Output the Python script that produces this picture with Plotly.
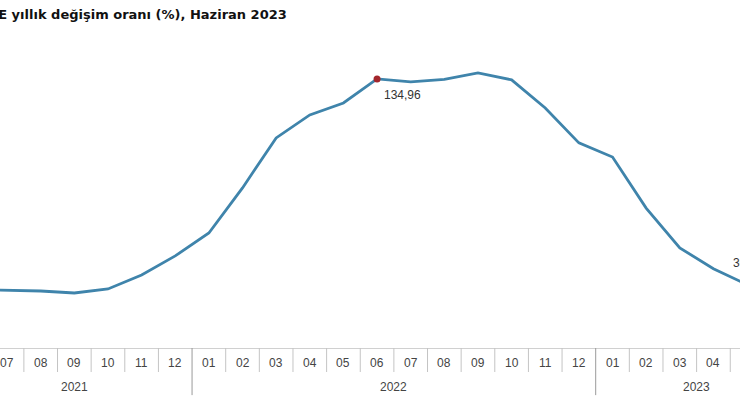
import plotly.graph_objects as go

# Tarım-ÜFE yıllık değişim (%), 2021-06 .. 2023-06
years = ["2021"] * 7 + ["2022"] * 12 + ["2023"] * 6
months = ["06", "07", "08", "09", "10", "11", "12",
          "01", "02", "03", "04", "05", "06", "07", "08", "09", "10", "11", "12",
          "01", "02", "03", "04", "05", "06"]
values = [29.3, 29.1, 28.6, 27.6, 29.6, 36.6, 46.2,
          57.7, 80.3, 105.4, 116.9, 122.9, 134.96, 133.5, 134.7, 138.0, 134.5, 120.4, 102.9,
          95.8, 70.2, 50.2, 39.8, 31.8, 30.31]
highlight = 12  # Haziran 2022

idx = list(range(len(values)))
xr = [0.79, 22.79]   # the picture is a crop of a wider chart
yr_max = 154.5

def fmt(v):
    return f"{v:.2f}".replace(".", ",")

def px(i):
    # category index -> paper x (labels outside the range must still show)
    return (i - xr[0]) / (xr[1] - xr[0])

fig = go.Figure()
fig.add_trace(go.Scatter(
    x=idx, y=values, mode="lines",
    line=dict(color="#3f84ab", width=2.8),
    hoverinfo="skip",
))
fig.add_trace(go.Scatter(
    x=[idx[highlight]], y=[values[highlight]], mode="markers",
    marker=dict(color="#a3262c", size=7),
    hoverinfo="skip",
))

label_font = dict(family="Liberation Sans, Arial", size=12, color="#333333")
fig.add_annotation(x=idx[highlight], y=values[highlight], text=fmt(values[highlight]),
                   showarrow=False, xanchor="left", yanchor="middle",
                   xshift=5, yshift=-16, font=label_font)
fig.add_annotation(x=px(idx[-1]), y=values[-1] / yr_max, xref="paper", yref="paper",
                   text=fmt(values[-1]),
                   showarrow=False, xanchor="right", yanchor="middle",
                   xshift=-16, yshift=25, font=label_font)

# month labels and separators
tick_font = dict(family="Liberation Sans, Arial", size=12, color="#444444")
shapes = []
for i in idx:
    fig.add_annotation(x=px(i), y=-0.05, xref="paper", yref="paper", text=months[i],
                       showarrow=False, xanchor="center", yanchor="middle", font=tick_font)
    if i < idx[-1]:
        new_year = years[i] != years[i + 1]
        shapes.append(dict(type="line", xref="x", yref="paper",
                           x0=i + 0.5, x1=i + 0.5, y0=0, y1=-0.153 if new_year else -0.078,
                           line=dict(color="#9a9a9a" if new_year else "#c4c4c4", width=1)))

# year labels
for yr in dict.fromkeys(years):
    pos = [i for i in idx if years[i] == yr]
    fig.add_annotation(x=px(sum(pos) / len(pos)), y=-0.127, xref="paper", yref="paper",
                       text=yr, showarrow=False, xanchor="center", yanchor="middle",
                       font=tick_font)

fig.add_annotation(x=289 / 740, y=1, xref="paper", yref="paper", yshift=26,
                   text="<b>Tarım-ÜFE yıllık değişim oranı (%), Haziran 2023</b>",
                   showarrow=False, xanchor="right", yanchor="middle",
                   font=dict(family="DejaVu Sans, Verdana", size=13, color="#111111"))

fig.update_layout(
    width=740, height=420,
    margin=dict(l=0, r=0, t=40, b=72),
    paper_bgcolor="white", plot_bgcolor="white",
    showlegend=False,
    shapes=shapes,
    xaxis=dict(range=xr, showticklabels=False,
               showgrid=False, zeroline=False, showline=True, linecolor="#d0d0d0",
               ticks=""),
    yaxis=dict(range=[0, yr_max], visible=False),
)

# drop the page margin so the figure fills the window like the cropped original
fig.write_html("out.html", config={"displayModeBar": False},
               post_script="document.body.style.margin='0';")
